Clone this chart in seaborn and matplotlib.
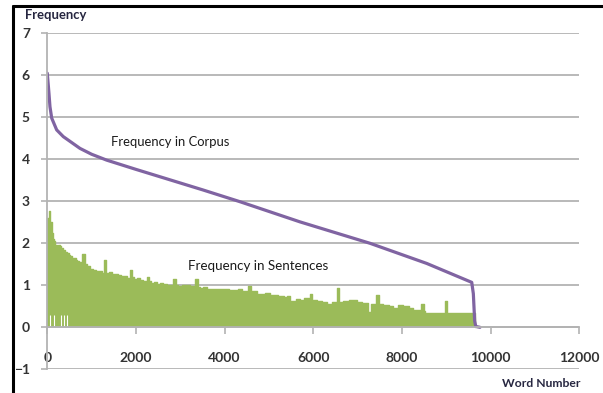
import numpy as np
import pandas as pd
import matplotlib
matplotlib.use('Agg')
import matplotlib.pyplot as plt
import seaborn as sns
from matplotlib.lines import Line2D

sns.set_theme(style='white')
plt.rcParams['font.family'] = ['Lato', 'DejaVu Sans']

# 词在语料中的频率 (紫色曲线)
corpus_x = [0, 20, 38, 61, 100, 212, 361, 737, 1000, 1340, 2000, 3512, 4347,
            5700, 7280, 8560, 9574, 9610, 9640, 9665, 9760]
corpus_y = [6.05, 5.8, 5.57, 5.25, 4.98, 4.70, 4.54, 4.26, 4.12, 3.98, 3.76,
            3.27, 2.99, 2.51, 2.00, 1.52, 1.07, 0.80, 0.15, 0.02, 0.0]

# 词在句子中的频率 (绿色区域上沿, 阶梯状)
sent_x = [0, 30, 60, 100, 130, 150, 180, 220, 250, 290, 320, 350, 400, 440,
          480, 520, 560, 590, 640, 680, 720, 760, 790, 850, 900, 960, 1030,
          1100, 1160, 1230, 1270, 1330, 1400, 1450, 1520, 1600, 1660, 1720,
          1790, 1860, 1920, 1960, 2030, 2090, 2160, 2240, 2300, 2330, 2400,
          2470, 2540, 2600, 2700, 2840, 2900, 2950, 3050, 3220, 3330, 3390,
          3450, 3520, 3600, 3700, 3800, 3900, 3970, 4100, 4200, 4300, 4400,
          4530, 4590, 4720, 4800, 4900, 5020, 5100, 5200, 5330, 5400, 5480,
          5600, 5700, 5800, 5920, 5980, 6080, 6200, 6300, 6420, 6530, 6590,
          6680, 6800, 6980, 7100, 7240, 7300, 7420, 7480, 7580, 7700, 7800,
          7900, 8030, 8150, 8250, 8440, 8500, 8520, 8700, 8960, 9020, 9080,
          9400, 9500, 9650]
sent_y = [2.6, 2.78, 2.5, 2.25, 2.1, 2.05, 1.97, 1.92, 1.95, 1.93, 1.88, 1.85,
          1.8, 1.77, 1.72, 1.7, 1.66, 1.65, 1.6, 1.58, 1.55, 1.52, 1.74, 1.5,
          1.45, 1.38, 1.36, 1.35, 1.33, 1.3, 1.6, 1.3, 1.32, 1.28, 1.26, 1.25,
          1.23, 1.22, 1.18, 1.36, 1.2, 1.15, 1.18, 1.12, 1.1, 1.19, 1.1, 1.06,
          1.08, 1.04, 1.05, 1.02, 1.0, 1.16, 1.0, 0.98, 1.01, 0.98, 1.15, 0.95,
          0.93, 0.95, 0.92, 0.9, 0.9, 0.92, 0.9, 0.88, 0.88, 0.9, 0.87, 0.98,
          0.86, 0.8, 0.8, 0.82, 0.76, 0.78, 0.74, 0.72, 0.74, 0.63, 0.68, 0.66,
          0.7, 0.8, 0.64, 0.63, 0.6, 0.55, 0.6, 0.94, 0.6, 0.62, 0.66, 0.6,
          0.58, 0.37, 0.55, 0.76, 0.55, 0.54, 0.5, 0.47, 0.52, 0.5, 0.45, 0.4,
          0.55, 0.38, 0.34, 0.34, 0.63, 0.34, 0.34, 0.33, 0.33, 0.0]
# 绿色区域底部的白色缝隙
gap_x = [61, 151, 300, 377, 451]
gap_top = 0.3

x_ticks = [0, 2000, 4000, 6000, 8000, 10000, 12000]
y_ticks = [-1, 0, 1, 2, 3, 4, 5, 6, 7]

green = '#9bbb59'
purple = '#8064a2'
grid_c = '#b3b3b3'
txt_c = '#333333'

fig = plt.figure(figsize=(6.03, 3.93), dpi=100)
ax = fig.add_axes([0.0784, 0.0603, 0.8823, 0.855])

ax.fill_between(sent_x, 0, sent_y, step='post', color=green, linewidth=0)
sns.lineplot(x=sent_x, y=sent_y, ax=ax, color=green, linewidth=1.0,
             sort=False, estimator=None, drawstyle='steps-post')
ax.vlines(gap_x, 0.03, gap_top, colors='white', linewidth=0.8)

df = pd.DataFrame({'x': corpus_x, 'y': corpus_y})
sns.lineplot(data=df, x='x', y='y', ax=ax, color=purple, linewidth=2.3,
             sort=False, estimator=None)

ax.set_xlim(0, 12000)
ax.set_ylim(-1, 7)
ax.set_xticks(x_ticks)
ax.set_yticks(y_ticks)
ax.set_xlabel('')
ax.set_ylabel('')
ax.grid(axis='y', color=grid_c, linewidth=1.3)
ax.grid(axis='x', visible=False)
ax.set_axisbelow(True)

for s in ['top', 'right']:
    ax.spines[s].set_visible(False)
ax.spines['bottom'].set_position(('data', 0))
for s in ['left', 'bottom']:
    ax.spines[s].set_color(grid_c)
    ax.spines[s].set_linewidth(1.3)

ax.tick_params(axis='x', direction='out', length=5, width=1.2, color=grid_c,
               pad=13, labelsize=10, labelcolor=txt_c, bottom=True)
ax.tick_params(axis='y', direction='out', length=4.5, width=1.2, color=grid_c,
               pad=8, labelsize=10, labelcolor=txt_c, left=True)
for lab in ax.get_xticklabels() + ax.get_yticklabels():
    lab.set_fontweight('bold')

ax.text(1437, 4.41, 'Frequency in Corpus', fontsize=9.4, color='#1a1a1a',
        ha='left', va='center')
ax.text(3174, 1.46, 'Frequency in Sentences', fontsize=9.6, color='#1a1a1a',
        ha='left', va='center')

fig.text(0.0415, 0.962, 'Frequency', fontsize=9.4, fontweight='bold',
         color='#262640', ha='left', va='center')
fig.text(0.962, 0.025, 'Word Number', fontsize=8.7, fontweight='bold',
         color='#262640', ha='right', va='center')

# 截图的黑色边框
fig.add_artist(Line2D([0.0216, 0.0216], [0, 0.985], color='black',
                      linewidth=2.2, transform=fig.transFigure))
fig.add_artist(Line2D([0.0216, 1.0], [0.985, 0.985], color='black',
                      linewidth=2.2, transform=fig.transFigure))

fig.savefig('out.png', dpi=100)
